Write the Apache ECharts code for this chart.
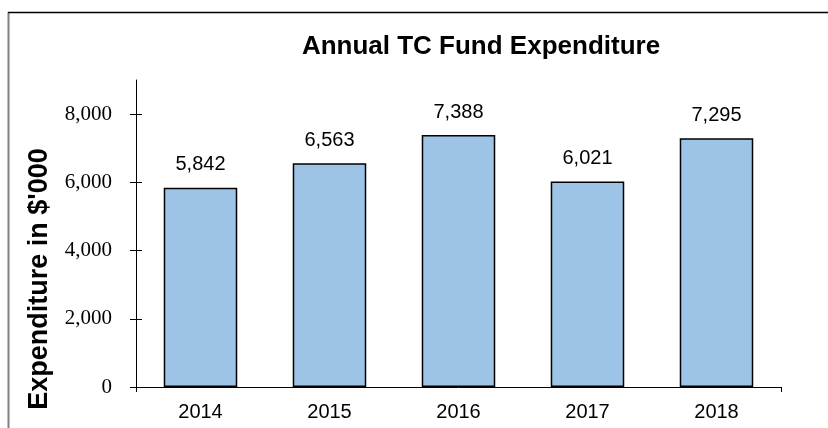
<!DOCTYPE html>
<html><head><meta charset="utf-8">
<script src="https://cdn.jsdelivr.net/npm/echarts@6/dist/echarts.min.js"></script>
<style>html,body{margin:0;padding:0;background:#fff}#c{width:828px;height:428px}</style>
</head><body><div id="c"></div>
<script>
const categories = ['2014','2015','2016','2017','2018'];
const expenditure = [5842, 6563, 7388, 6021, 7295];
const yTicks = [0, 2000, 4000, 6000, 8000];
const chartTitle = 'Annual TC Fund Expenditure';
const yTitle = "Expenditure in $'000";

const chart = echarts.init(document.getElementById('c'), null, {renderer:'canvas'});
chart.setOption({
  animation:false,
  backgroundColor:'#fff',
  title:{text:chartTitle,left:481,top:34,textAlign:'center',padding:0,
    textStyle:{fontFamily:'Liberation Sans, Arial',fontWeight:'bold',fontSize:26,color:'#000'}},
  graphic:[
    {type:'line',shape:{x1:8.5,y1:12,x2:8.5,y2:428},style:{stroke:'#808080',lineWidth:2}},
    {type:'line',shape:{x1:8,y1:12.5,x2:828,y2:12.5},style:{stroke:'#000',lineWidth:1.5}},
    {type:'text',x:40,y:279,rotation:Math.PI/2,
      style:{text:yTitle,x:0,y:0,align:'center',verticalAlign:'middle',
        font:'bold 27px "Liberation Sans", Arial',fill:'#000'}}
  ],
  grid:{left:136,right:47,top:80,bottom:41,containLabel:false},
  xAxis:{type:'category',data:categories,
    axisLine:{lineStyle:{color:'#000',width:1}},
    axisTick:{show:true,length:5,interval:function(i){return i===0;},lineStyle:{color:'#000'}},
    axisLabel:{margin:15,color:'#000',fontFamily:'Liberation Sans, Arial',fontSize:20}},
  yAxis:[{type:'value',min:0,max:9000,interval:1000,
    axisLine:{show:true,lineStyle:{color:'#000',width:1}},
    axisTick:{show:true,length:6,customValues:yTicks,lineStyle:{color:'#000'}},
    axisLabel:{customValues:yTicks,margin:24,color:'#000',fontFamily:'Liberation Serif, Times New Roman',fontSize:21,
      formatter:function(v){return v.toLocaleString('en-US');}},
    splitLine:{show:false}},
    {type:'value',min:0,max:9000,interval:1000,position:'left',
    axisLine:{show:false},
    axisTick:{show:true,inside:true,length:6,customValues:yTicks,lineStyle:{color:'#000'}},
    axisLabel:{show:false},splitLine:{show:false}}],
  series:[{type:'bar',data:expenditure,barCategoryGap:'43%',
    itemStyle:{color:'#9DC3E6',borderColor:'#000',borderWidth:1.5},
    label:{show:true,position:'top',distance:13,color:'#000',fontFamily:'Liberation Sans, Arial',fontSize:20,
      formatter:function(p){return p.value.toLocaleString('en-US');}}}]
});
</script></body></html>
